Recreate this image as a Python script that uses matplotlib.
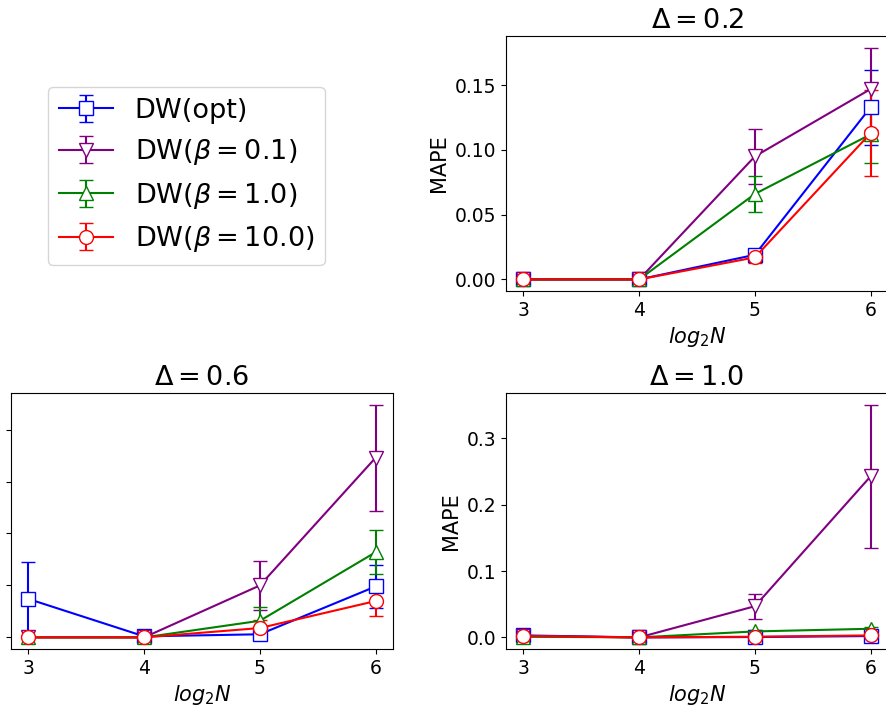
import numpy as np
import matplotlib
matplotlib.use('Agg')
import matplotlib.pyplot as plt

x = [3, 4, 5, 6]
labels = ['DW(opt)', r'DW($\beta=0.1$)', r'DW($\beta=1.0$)', r'DW($\beta=10.0$)']
colors = ['blue', 'purple', 'green', 'red']
markers = ['s', 'v', '^', 'o']
titles = [r'$\Delta=0.2$', r'$\Delta=0.6$', r'$\Delta=1.0$']

# Delta = 0.2
m02 = [[0.0, 0.0, 0.019, 0.133],
       [0.0, 0.0, 0.095, 0.147],
       [0.0, 0.0, 0.066, 0.112],
       [0.0, 0.0, 0.017, 0.113]]
e02 = [[0.0, 0.0, 0.004, 0.029],
       [0.0, 0.0, 0.021, 0.032],
       [0.0, 0.0, 0.014, 0.022],
       [0.0, 0.0, 0.004, 0.033]]
# Delta = 0.6
m06 = [[0.037, 0.001, 0.003, 0.049],
       [0.0, 0.0, 0.050, 0.173],
       [0.0, 0.0, 0.016, 0.082],
       [0.0, 0.0, 0.009, 0.035]]
e06 = [[0.036, 0.001, 0.002, 0.021],
       [0.0, 0.0, 0.024, 0.051],
       [0.0, 0.0, 0.013, 0.021],
       [0.0, 0.0, 0.008, 0.014]]
# Delta = 1.0
m10 = [[0.003, 0.0, 0.0005, 0.002],
       [0.002, 0.0, 0.047, 0.243],
       [0.001, 0.0, 0.009, 0.013],
       [0.002, 0.0, 0.001, 0.003]]
e10 = [[0.001, 0.0, 0.0005, 0.001],
       [0.0, 0.0, 0.019, 0.108],
       [0.0, 0.0, 0.002, 0.003],
       [0.001, 0.0, 0.001, 0.001]]

fig = plt.figure(figsize=(8.86, 7.07), dpi=100)
ax02 = fig.add_axes([0.5711, 0.5884, 0.4312, 0.3607])
ax06 = fig.add_axes([0.0124, 0.0820, 0.4312, 0.3621])
ax10 = fig.add_axes([0.5711, 0.0820, 0.4312, 0.3621])

handles = []
for ax, means, errs, t in zip([ax02, ax06, ax10], [m02, m06, m10], [e02, e06, e10], titles):
    hs = []
    for i in range(4):
        h = ax.errorbar(x, means[i], yerr=errs[i], color=colors[i], marker=markers[i],
                        markersize=10, markerfacecolor='white', markeredgecolor=colors[i],
                        capsize=5, linewidth=1.5, label=labels[i])
        hs.append(h)
    handles = hs
    ax.set_title(t, fontsize=19.5)
    ax.set_xlabel(r'$log_2N$', fontsize=15)
    ax.set_ylabel('MAPE', fontsize=15)
    ax.set_xticks(x)
    ax.tick_params(labelsize=13.5)

fig.legend(handles, labels, loc='upper left', bbox_to_anchor=(0.054, 0.877),
           fontsize=19.5, handlelength=2.0, borderaxespad=0)

plt.savefig('out.png', dpi=100)
